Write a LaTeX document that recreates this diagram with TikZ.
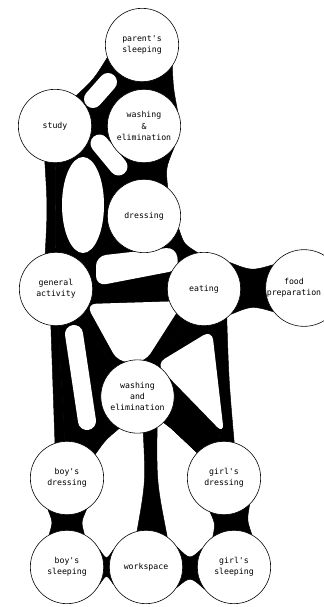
\documentclass[tikz,border=0pt]{standalone}
\usepackage{fontspec}
\newfontfamily\lettering{DejaVu Sans Mono}
\usetikzlibrary{calc,backgrounds}

% one-sided web: centre line of two rooms to a concave outer edge
\newcommand{\web}[5]{%
  \filldraw (#1.center) -- (#1.#2)
    .. controls ($($(#1.#2)!.5!(#3.#4)$)!#5!($(#1.center)!.5!(#3.center)$)$) ..
    (#3.#4) -- (#3.center) -- cycle;}
% two-sided bridge between two rooms
\newcommand{\bridge}[7]{%
  \filldraw (#1.#2)
    .. controls ($($(#1.#2)!.5!(#4.#5)$)!#7!($(#1.#3)!.5!(#4.#6)$)$) .. (#4.#5)
    -- (#4.#6)
    .. controls ($($(#1.#3)!.5!(#4.#6)$)!#7!($(#1.#2)!.5!(#4.#5)$)$) .. (#1.#3)
    -- cycle;}

\begin{document}
\begin{tikzpicture}[
  x=0.3mm, y=-0.3mm,
  room/.style={circle, draw, fill=white, line width=0.5pt,
    minimum size=22mm, inner sep=0pt, align=center,
    font=\lettering\fontsize{7}{9.5}\selectfont},
  hole/.style={white, line width=5.4mm, line cap=round},
  gap/.style={white, rounded corners=3mm}
]
\useasboundingbox (0,0) rectangle (323,607);

% ── Rooms ──
\node[room] (parent)  at (142,45)  {parent's\\sleeping};
\node[room] (study)   at (55,126)  {study};
\node[room] (washup)  at (144,126) {washing\\\&\\elimination};
\node[room] (dress)   at (144,216) {dressing};
\node[room] (general) at (56,289)  {general\\activity};
\node[room] (eat)     at (204,289) {eating};
\node[room] (food)    at (304,288)
  {food\hspace*{6mm}\\preparation\hspace*{6mm}};
\node[room] (washdn)  at (137.5,396.5) {washing\\and\\elimination};
\node[room] (bdress)  at (67,478)  {boy's\\dressing};
\node[room] (gdress)  at (224,478) {girl's\\dressing};
\node[room] (bsleep)  at (67,567)  {boy's\\sleeping};
\node[room] (work)    at (146,567) {workspace};
\node[room] (gsleep)  at (234,567) {girl's\\sleeping};

\begin{pgfonlayer}{background}
\begin{scope}[line width=0.4pt, line join=round]
% ── Black faces between three rooms ──
\foreach \a/\b/\c in {parent/study/washup, study/washup/dress,
    study/dress/general, general/dress/eat, general/eat/washdn,
    general/washdn/bdress, eat/washdn/gdress}
  \filldraw (\a.center) -- (\b.center) -- (\c.center) -- cycle;

% ── Outer webs ──
\web{parent}{200}{study}{55}{.3}
\web{parent}{325}{washup}{25}{.05}
\web{washup}{325}{dress}{50}{.2}
\web{dress}{340}{eat}{100}{.3}
\web{study}{254}{general}{107}{.25}
\web{general}{262}{bdress}{109}{.1}
\web{washdn}{240}{bdress}{40}{.35}
\web{washdn}{315}{gdress}{131}{.35}
\web{eat}{308}{gdress}{74}{.1}

% ── Bridges ──
\bridge{eat}{46}{317}{food}{143}{218}{.15}
\bridge{washdn}{279}{302}{work}{104}{55}{.25}
\bridge{bdress}{239}{302}{bsleep}{119}{62}{.12}
\bridge{bsleep}{28}{332}{work}{152}{208}{.3}
\bridge{work}{33}{326}{gsleep}{150}{217}{.3}
\bridge{gdress}{248}{314}{gsleep}{125}{61}{.1}
\end{scope}

% ── Holes ──
\draw[hole] (93,99) -- (108,82);
\draw[hole] (99.5,143.5) -- (118.5,166.5);
\fill[white] (83,205) ellipse [x radius=21, y radius=48];
\fill[gap] (96,256) -- (176,247) -- (179,270) -- (96,286) -- cycle;
\fill[gap] (86,304) -- (184,301) -- (145,362) -- (118,362) -- cycle;
\draw[hole] (74,334) -- (87,421);
\fill[gap] (156,364) -- (212,330) -- (224,434) -- cycle;
\end{pgfonlayer}

\end{tikzpicture}
\end{document}
